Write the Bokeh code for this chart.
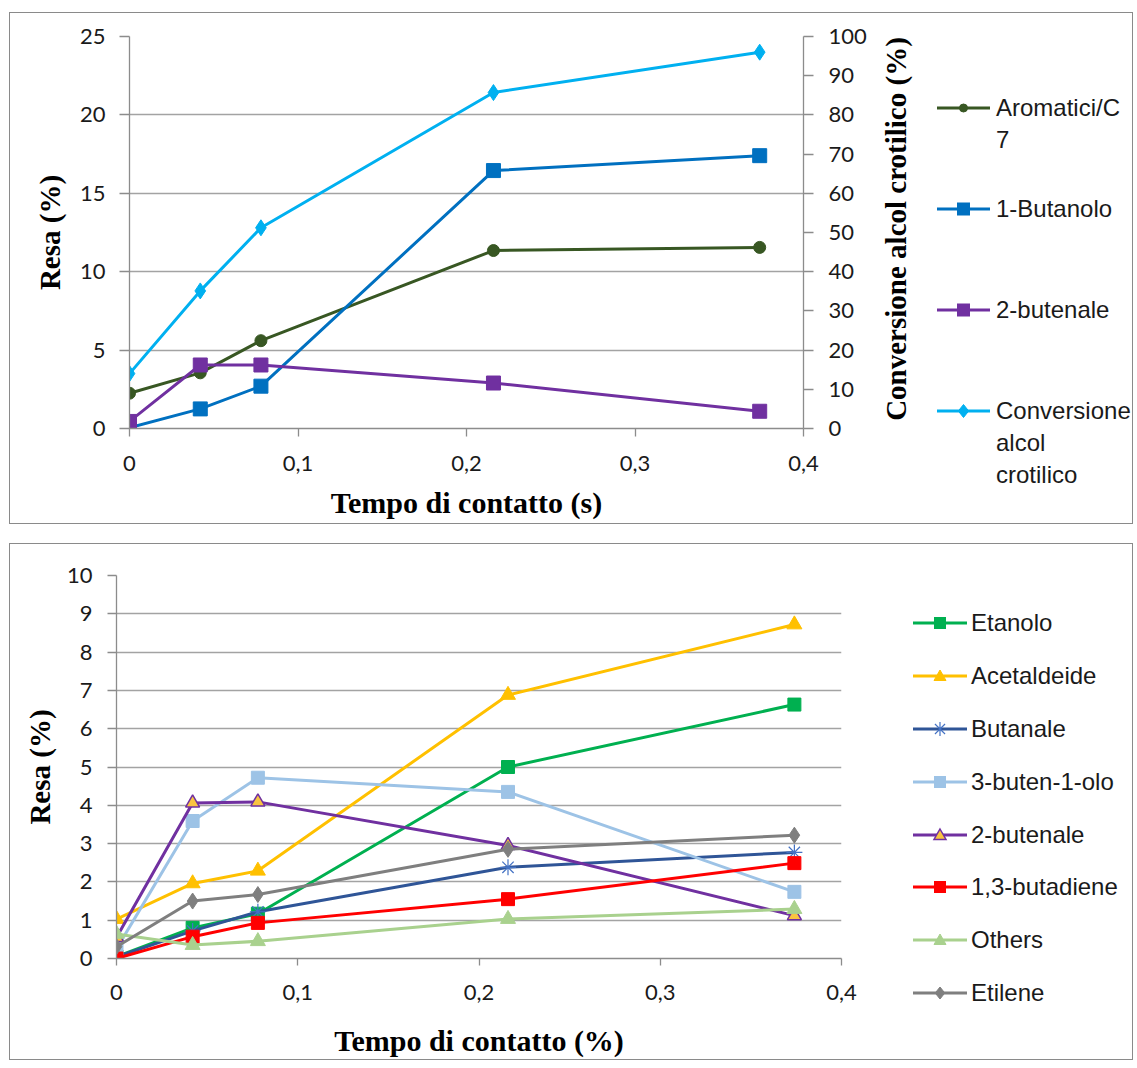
from bokeh.plotting import figure
from bokeh.models import Range1d, LinearAxis, FixedTicker, CustomJSTickFormatter, Div
from bokeh.layouts import row
from bokeh.embed import file_html
from bokeh.resources import INLINE

# ---------------- data ----------------
tempo = [0, 0.042, 0.078, 0.216, 0.374]

# top chart (Resa %, left axis) and conversion (%, right axis)
aromatici = [2.25, 3.55, 5.6, 11.35, 11.55]
butanolo = [0.05, 1.25, 2.7, 16.45, 17.4]
butenale_top = [0.45, 4.05, 4.05, 2.9, 1.1]
conversione = [14.0, 35.1, 51.2, 85.7, 96.0]

# bottom chart (Resa %)
etanolo = [0.05, 0.8, 1.17, 5.0, 6.63]
acetaldeide = [1.03, 1.96, 2.29, 6.88, 8.72]
butanale = [0.04, 0.72, 1.22, 2.38, 2.77]
butenolo = [0.25, 3.59, 4.72, 4.35, 1.74]
butenale_bot = [0.55, 4.06, 4.09, 2.95, 1.12]
butadiene = [0.0, 0.57, 0.93, 1.55, 2.49]
others = [0.64, 0.35, 0.45, 1.03, 1.29]
etilene = [0.31, 1.5, 1.67, 2.85, 3.22]

x_ticks = [0, 0.1, 0.2, 0.3, 0.4]
top_left_ticks = [0, 5, 10, 15, 20, 25]
top_right_ticks = [0, 10, 20, 30, 40, 50, 60, 70, 80, 90, 100]
bot_ticks = [0, 1, 2, 3, 4, 5, 6, 7, 8, 9, 10]

top_names = ["Aromatici/C", "1-Butanolo", "2-butenale", "Conversione"]
top_name_rest = {"Aromatici/C": ["7"], "Conversione": ["alcol", "crotilico"]}
bot_names = ["Etanolo", "Acetaldeide", "Butanale", "3-buten-1-olo", "2-butenale",
             "1,3-butadiene", "Others", "Etilene"]

# ---------------- style ----------------
FONT = "Lato"
LEG_FONT = "Liberation Sans"
SERIF = "Liberation Serif"
GRID = "#a3a3a3"
AXIS = "#8c8c8c"
TXT = "#1a1a1a"
BORDER_C = "#8a8a8a"

top_style = {
    "Aromatici/C": dict(color="#385723", marker="circle", size=12, lsize=8),
    "1-Butanolo": dict(color="#0070C0", marker="square", size=14, lsize=12),
    "2-butenale": dict(color="#7030A0", marker="square", size=14, lsize=12),
    "Conversione": dict(color="#00B0F0", marker="diamond", size=16, lsize=13),
}
bot_style = {
    "Etanolo": dict(color="#00B050", marker="square", size=13, lsize=11),
    "Acetaldeide": dict(color="#FFC000", marker="triangle", size=15, lsize=12),
    "Butanale": dict(color="#2F5597", marker="asterisk", size=16, lsize=14,
                     mcolor="#4472C4", mlw=1.2),
    "3-buten-1-olo": dict(color="#9DC3E6", marker="square", size=13, lsize=11),
    "2-butenale": dict(color="#7030A0", marker="triangle", size=14, lsize=12,
                       fill="#F9C440", mlw=1.5),
    "1,3-butadiene": dict(color="#FF0000", marker="square", size=13, lsize=11),
    "Others": dict(color="#A9D18E", marker="triangle", size=15, lsize=12),
    "Etilene": dict(color="#7F7F7F", marker="diamond", size=16, lsize=12),
}

fmt = CustomJSTickFormatter(code="return tick === 0 ? '0' : tick.toFixed(1).replace('.', ',');")


def style_axis(ax, tick_out, standoff, label_standoff, title_size="29px"):
    ax.axis_line_color = AXIS
    ax.axis_line_width = 1.3
    ax.major_tick_line_color = AXIS
    ax.major_tick_line_width = 1.3
    ax.major_tick_out = tick_out
    ax.major_tick_in = 0
    ax.minor_tick_line_color = None
    ax.major_label_text_font = FONT
    ax.major_label_text_font_size = "22px"
    ax.major_label_text_color = TXT
    ax.major_label_standoff = standoff
    ax.axis_label_text_font = SERIF
    ax.axis_label_text_font_style = "bold"
    ax.axis_label_text_font_size = title_size
    ax.axis_label_text_color = "#000000"
    ax.axis_label_standoff = label_standoff


def series(p, x, y, st, y_range_name="default"):
    p.line(x, y, line_color=st["color"], line_width=3, line_join="round",
           y_range_name=y_range_name)
    p.scatter(x, y, marker=st["marker"], size=st["size"],
              fill_color=st.get("fill", st["color"]),
              line_color=st.get("mcolor", st["color"]), line_width=st.get("mlw", 1.0),
              y_range_name=y_range_name)


def glyph_svg(st, left, cy, w=54, h=30):
    c = st["color"]
    f = st.get("fill", c)
    mc = st.get("mcolor", c)
    lw = st.get("mlw", 1.0)
    r = st["lsize"] / 2
    x0, y0 = w / 2, h / 2
    parts = [f'<line x1="0" y1="{y0}" x2="{w}" y2="{y0}" stroke="{c}" stroke-width="3"/>']
    m = st["marker"]
    if m == "circle":
        parts.append(f'<circle cx="{x0}" cy="{y0}" r="{r}" fill="{f}" stroke="{mc}" stroke-width="{lw}"/>')
    elif m == "square":
        parts.append(f'<rect x="{x0 - r}" y="{y0 - r}" width="{2 * r}" height="{2 * r}" fill="{f}" stroke="{mc}" stroke-width="{lw}"/>')
    elif m == "diamond":
        pts = f"{x0},{y0 - r} {x0 + r * 0.8},{y0} {x0},{y0 + r} {x0 - r * 0.8},{y0}"
        parts.append(f'<polygon points="{pts}" fill="{f}" stroke="{mc}" stroke-width="{lw}"/>')
    elif m == "triangle":
        pts = f"{x0},{y0 - r} {x0 + r},{y0 + r * 0.75} {x0 - r},{y0 + r * 0.75}"
        parts.append(f'<polygon points="{pts}" fill="{f}" stroke="{mc}" stroke-width="{lw}"/>')
    elif m == "asterisk":
        d = r * 0.72
        parts.append(f'<line x1="{x0}" y1="{y0 - r}" x2="{x0}" y2="{y0 + r}" stroke="{mc}" stroke-width="{lw}"/>')
        parts.append(f'<line x1="{x0 - d}" y1="{y0 - d}" x2="{x0 + d}" y2="{y0 + d}" stroke="{mc}" stroke-width="{lw}"/>')
        parts.append(f'<line x1="{x0 - d}" y1="{y0 + d}" x2="{x0 + d}" y2="{y0 - d}" stroke="{mc}" stroke-width="{lw}"/>')
    return (f'<svg width="{w}" height="{h}" style="position:absolute;left:{left}px;'
            f'top:{cy - h / 2}px;overflow:visible">' + "".join(parts) + "</svg>")


def text_html(txt, left, cy):
    return (f'<div style="position:absolute;left:{left}px;top:{cy - 15}px;height:30px;'
            f'line-height:30px;font-family:\'{LEG_FONT}\';font-size:24px;'
            f'color:{TXT};white-space:nowrap">{txt}</div>')


def box_html(w, h, inner):
    return (f'<div style="position:relative;box-sizing:border-box;width:{w}px;height:{h}px;'
            f'border:1px solid {BORDER_C};border-left:none;background:white;overflow:hidden">'
            + inner + "</div>")


# ================= TOP CHART =================
p1 = figure(frame_width=673, frame_height=390, x_range=Range1d(0, 0.4), y_range=Range1d(0, 25),
            output_backend="svg", toolbar_location=None,
            min_border_left=119, min_border_right=74, min_border_top=23, min_border_bottom=97,
            background_fill_color="white", border_fill_color="white",
            styles={"border": f"1px solid {BORDER_C}", "border-right": "none"})
p1.outline_line_color = None
p1.xgrid.visible = False
p1.ygrid.grid_line_color = GRID
p1.ygrid.grid_line_width = 1.3
p1.xaxis.ticker = FixedTicker(ticks=x_ticks)
p1.xaxis.formatter = fmt
p1.yaxis.ticker = FixedTicker(ticks=top_left_ticks)
p1.xaxis.axis_label = "Tempo di contatto (s)"
p1.yaxis.axis_label = "Resa (%)"
style_axis(p1.xaxis[0], 8, 19, 12, "30px")
style_axis(p1.yaxis[0], 10, 14, 11)

p1.extra_y_ranges = {"conv": Range1d(0, 100)}
ax_r = LinearAxis(y_range_name="conv", ticker=FixedTicker(ticks=top_right_ticks))
style_axis(ax_r, 10, 15, 14)
p1.add_layout(ax_r, "right")

series(p1, tempo, aromatici, top_style["Aromatici/C"])
series(p1, tempo, butanolo, top_style["1-Butanolo"])
series(p1, tempo, butenale_top, top_style["2-butenale"])
series(p1, tempo, conversione, top_style["Conversione"], y_range_name="conv")

# legend + right-axis title panel (HTML, positions relative to the panel)
top_rows_y = [95, 196, 297, 398]
inner = (f'<div style="position:absolute;left:20px;top:216px;transform:translate(-50%,-50%) '
         f'rotate(-90deg);font-family:\'{SERIF}\';font-weight:bold;font-size:29px;'
         f'line-height:1;white-space:nowrap;color:#000">Conversione alcol crotilico (%)</div>')
for name, y in zip(top_names, top_rows_y):
    inner += glyph_svg(top_style[name], 61, y, w=53)
    inner += text_html(name, 120, y)
    for k, extra in enumerate(top_name_rest.get(name, [])):
        inner += text_html(extra, 120, y + 32 * (k + 1))
div1 = Div(text=box_html(257, 512, inner), width=257, height=512, margin=0)

# ================= BOTTOM CHART =================
p2 = figure(frame_width=724, frame_height=381, x_range=Range1d(0, 0.4), y_range=Range1d(0, 10),
            output_backend="svg", toolbar_location=None,
            min_border_left=106, min_border_right=41, min_border_top=31, min_border_bottom=103,
            background_fill_color="white", border_fill_color="white",
            styles={"border": f"1px solid {BORDER_C}", "border-right": "none"})
p2.outline_line_color = None
p2.xgrid.visible = False
p2.ygrid.grid_line_color = GRID
p2.ygrid.grid_line_width = 1.3
p2.xaxis.ticker = FixedTicker(ticks=x_ticks)
p2.xaxis.formatter = fmt
p2.yaxis.ticker = FixedTicker(ticks=bot_ticks)
p2.xaxis.axis_label = "Tempo di contatto (%)"
p2.yaxis.axis_label = "Resa (%)"
style_axis(p2.xaxis[0], 7, 19, 21, "30px")
style_axis(p2.yaxis[0], 9, 15, 8)

for name, ys in zip(bot_names, [etanolo, acetaldeide, butanale, butenolo, butenale_bot,
                                butadiene, others, etilene]):
    series(p2, tempo, ys, bot_style[name])

inner2 = ""
for k, name in enumerate(bot_names):
    y = 78.7 + 52.95 * k
    inner2 += glyph_svg(bot_style[name], 32, y, w=54)
    inner2 += text_html(name, 90, y)
div2 = Div(text=box_html(252, 517, inner2), width=252, height=517, margin=0)

top_row = row(p1, div1, margin=(12, 0, 0, 9))
bot_row = row(p2, div2, margin=(19, 0, 0, 9))

open("out.html", "w").write(file_html([top_row, bot_row], INLINE))
